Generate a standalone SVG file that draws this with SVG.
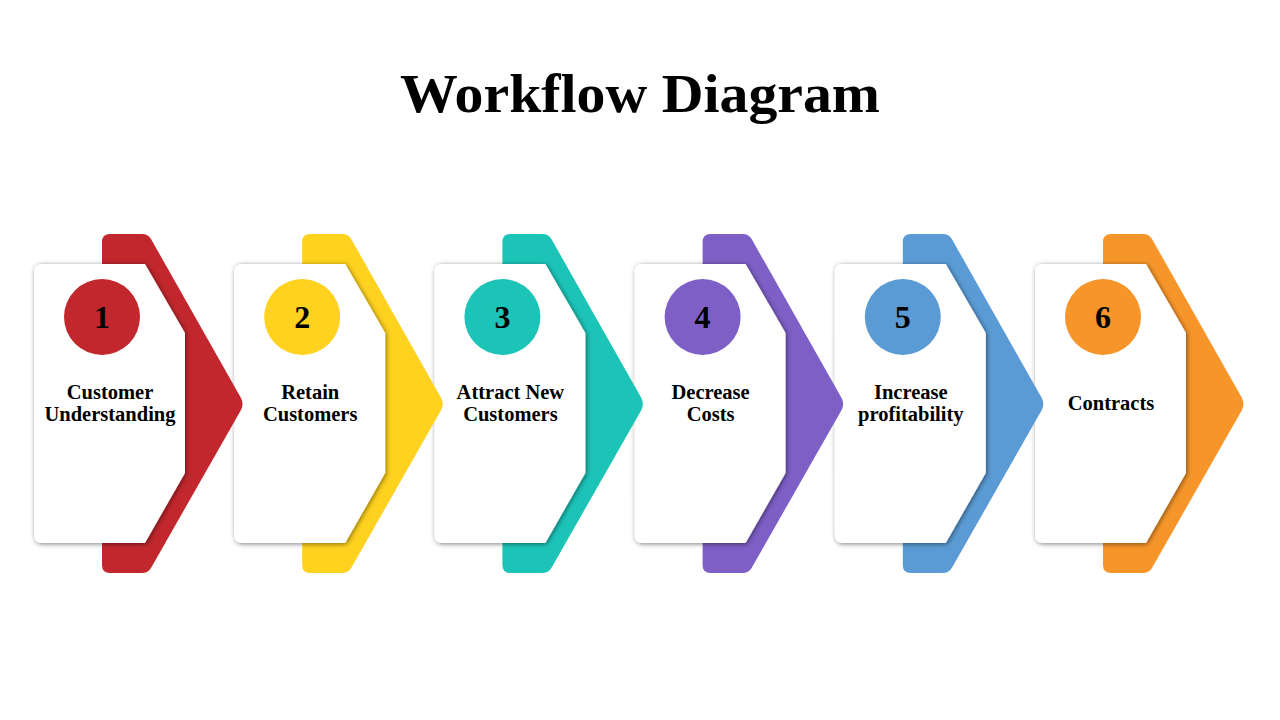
<svg xmlns="http://www.w3.org/2000/svg" width="1280" height="720" viewBox="0 0 1280 720">
<defs>
<filter id="sh" x="-20%" y="-20%" width="140%" height="140%">
<feDropShadow dx="1" dy="1" stdDeviation="2.5" flood-color="#000" flood-opacity="0.5"/>
</filter>
<path id="arrow" d="M102,242 Q102,234 110,234 L142,234 Q148,234 151,239 L241,398 Q244,404 241,410 L151,568 Q148,573 142,573 L110,573 Q102,573 102,565 Z"/>
<path id="card" d="M42,264 L145,264 L185,333 L185,473 L145,543 L42,543 Q34,543 34,535 L34,272 Q34,264 42,264 Z"/>
</defs>
<style>
.t{font-family:"Liberation Serif","DejaVu Serif",serif;font-weight:bold;fill:#000;text-anchor:middle}
.lbl{font-size:20.5px}
.num{font-size:32px}
.card{fill:#fff;filter:url(#sh)}
</style>
<rect width="1280" height="720" fill="#fff"/>
<text class="t" x="640" y="112" font-size="54" textLength="480" lengthAdjust="spacingAndGlyphs">Workflow Diagram</text>
<g id="node6" transform="translate(1001,0)">
<use href="#arrow" fill="#F6962A"/>
<use href="#card" class="card"/>
<circle cx="102" cy="317" r="38" fill="#F6962A"/>
<text class="t num" x="102" y="328">6</text>
<text class="t lbl" x="110" y="410">Contracts</text>
</g>
<g id="node5" transform="translate(800.8,0)">
<use href="#arrow" fill="#5B9BD5"/>
<use href="#card" class="card"/>
<circle cx="102" cy="317" r="38" fill="#5B9BD5"/>
<text class="t num" x="102" y="328">5</text>
<text class="t lbl" x="110" y="399">Increase</text>
<text class="t lbl" x="110" y="421">profitability</text>
</g>
<g id="node4" transform="translate(600.6,0)">
<use href="#arrow" fill="#7E5FC6"/>
<use href="#card" class="card"/>
<circle cx="102" cy="317" r="38" fill="#7E5FC6"/>
<text class="t num" x="102" y="328">4</text>
<text class="t lbl" x="110" y="399">Decrease</text>
<text class="t lbl" x="110" y="421">Costs</text>
</g>
<g id="node3" transform="translate(400.4,0)">
<use href="#arrow" fill="#1CC4B8"/>
<use href="#card" class="card"/>
<circle cx="102" cy="317" r="38" fill="#1CC4B8"/>
<text class="t num" x="102" y="328">3</text>
<text class="t lbl" x="110" y="399">Attract New</text>
<text class="t lbl" x="110" y="421">Customers</text>
</g>
<g id="node2" transform="translate(200.2,0)">
<use href="#arrow" fill="#FFD21F"/>
<use href="#card" class="card"/>
<circle cx="102" cy="317" r="38" fill="#FFD21F"/>
<text class="t num" x="102" y="328">2</text>
<text class="t lbl" x="110" y="399">Retain</text>
<text class="t lbl" x="110" y="421">Customers</text>
</g>
<g id="node1">
<use href="#arrow" fill="#C1272D"/>
<use href="#card" class="card"/>
<circle cx="102" cy="317" r="38" fill="#C1272D"/>
<text class="t num" x="102" y="328">1</text>
<text class="t lbl" x="110" y="399">Customer</text>
<text class="t lbl" x="110" y="421">Understanding</text>
</g>
<g id="connectors"/>
</svg>
